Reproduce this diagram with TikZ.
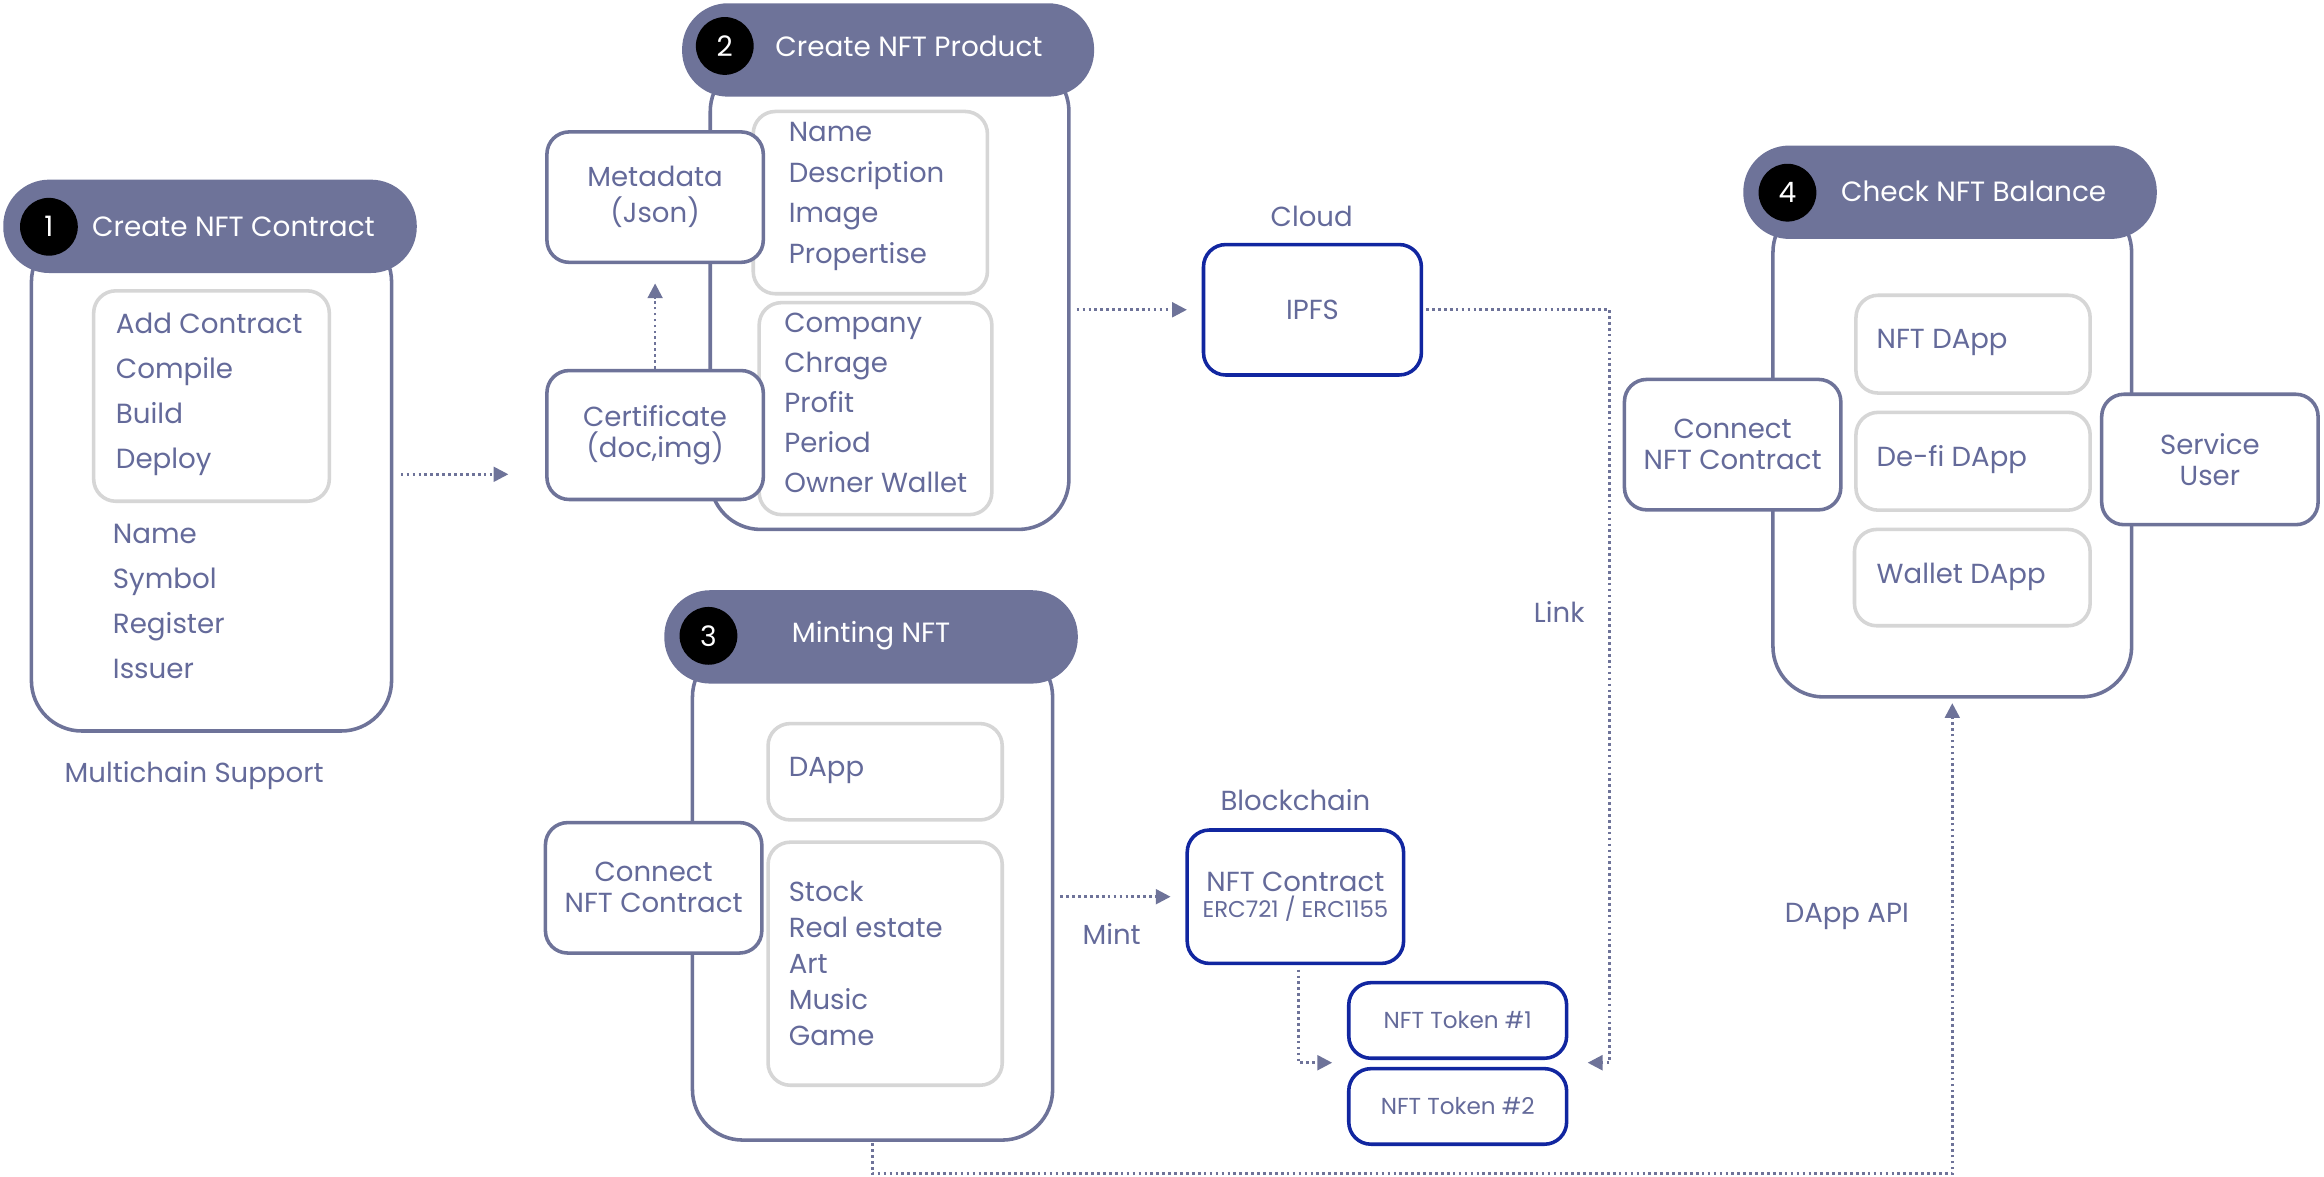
\documentclass[tikz,border=0pt]{standalone}
\usepackage{fontspec}
\setmainfont{Poppins}
\usetikzlibrary{arrows.meta}
\definecolor{hdr}{HTML}{6E7399}
\definecolor{txt}{HTML}{646A9A}
\definecolor{blu}{HTML}{1126A0}
\definecolor{gry}{HTML}{D6D6D6}
\begin{document}
\begin{tikzpicture}[x=1pt,y=-1pt,
 container/.style={draw=hdr,line width=2.4pt,rounded corners=34pt,fill=white,anchor=north west},
 header/.style={fill=hdr,rounded corners=31pt,minimum height=63pt,anchor=north west},
 num/.style={circle,fill=black,text=white,minimum size=39pt,inner sep=0pt,font=\fontsize{19}{20}\selectfont},
 htext/.style={text=white,anchor=west,font=\fontsize{18.8}{20}\selectfont,inner sep=0pt},
 sbox/.style={draw=hdr,line width=2.4pt,rounded corners=15pt,fill=white,align=center,text=txt,font=\fontsize{18.6}{21}\selectfont},
 gbox/.style={draw=gry,line width=2.4pt,rounded corners=15pt,anchor=north west},
 bbox/.style={draw=blu,line width=2.4pt,rounded corners=15pt,fill=white,align=center,text=txt,font=\fontsize{18.6}{20}\selectfont},
 lst/.style={anchor=west,align=left,text=txt,inner sep=0pt},
 lbl/.style={text=txt,font=\fontsize{18.6}{20}\selectfont},
 dotln/.style={draw=hdr,line width=1.8pt,dash pattern=on 1.8pt off 2.2pt},
 arr/.style={dotln,-{Triangle[length=10pt,width=10pt]}},
]
\useasboundingbox (0,0) rectangle (1568,793.45);

% ---------- Box 1
\node[container,minimum width=243,minimum height=337] (c1) at (20,155) {};
\node[header,minimum width=279] (h1) at (2,121) {};
\node[num] (n1) at (33,153) {1};
\node[htext] (t1) at (62,153) {Create NFT Contract};
\node[gbox,minimum width=159,minimum height=142] (g1) at (62,195) {};
\node[lst,font=\fontsize{18.7}{30.3}\selectfont] (l1) at (78,266) {Add Contract\\Compile\\Build\\Deploy};
\node[lst,font=\fontsize{18.7}{30.3}\selectfont] (l2) at (76,406) {Name\\Symbol\\Register\\Issuer};
\node[lbl] (ms) at (131,523) {Multichain Support};

% ---------- Box 2
\node[container,minimum width=242,minimum height=316] (c2) at (478,40) {};
\node[header,minimum width=278] (h2) at (460,2) {};
\node[num] (n2) at (489,31) {2};
\node[htext] (t2) at (523,31) {Create NFT Product};
\node[gbox,minimum width=158,minimum height=123] (g2a) at (507,74) {};
\node[gbox,minimum width=157,minimum height=143] (g2b) at (511,203) {};
\node[lst,font=\fontsize{18.6}{27.3}\selectfont] (l3) at (532,132.5) {Name\\Description\\Image\\Propertise};
\node[lst,font=\fontsize{18.6}{27}\selectfont] (l4) at (529,272) {Company\\Chrage\\Profit\\Period\\Owner Wallet};
\node[sbox,minimum width=146,minimum height=88,font=\fontsize{18.6}{24}\selectfont] (meta) at (442,133) {Metadata\\(Json)};
\node[sbox,minimum width=146,minimum height=87] (cert) at (442,293.5) {Certificate\\(doc,img)};

% ---------- Cloud / IPFS
\node[lbl] (cloud) at (885,146) {Cloud};
\node[bbox,minimum width=147,minimum height=88] (ipfs) at (885.5,209) {IPFS};

% ---------- Box 3
\node[container,minimum width=243,minimum height=333] (c3) at (466,435) {};
\node[header,minimum width=279] (h3) at (448,398) {};
\node[num] (n3) at (478,429) {3};
\node[htext] (t3) at (534,429) {Minting NFT};
\node[gbox,minimum width=158,minimum height=65] (g3a) at (517,487) {};
\node[gbox,minimum width=158,minimum height=164] (g3b) at (517,567) {};
\node[lst,font=\fontsize{18.6}{24}\selectfont] (l5) at (532,520) {DApp};
\node[lst,font=\fontsize{18.6}{24.3}\selectfont] (l6) at (532,650) {Stock\\Real estate\\Art\\Music\\Game};
\node[sbox,minimum width=146,minimum height=88] (con3) at (441,599) {Connect\\NFT Contract};

% ---------- Blockchain
\node[lbl] (bc) at (874,540) {Blockchain};
\node[bbox,minimum width=146,minimum height=90] (nftc) at (874,605) {NFT Contract\\[-3pt]{\fontsize{15.4}{16}\selectfont ERC721 / ERC1155}};
\node[bbox,minimum width=147,minimum height=51,font=\fontsize{15.6}{16}\selectfont] (tok1) at (983.5,688.5) {NFT Token \#1};
\node[bbox,minimum width=147,minimum height=51,font=\fontsize{15.6}{16}\selectfont] (tok2) at (983.5,746.5) {NFT Token \#2};
\node[lbl] (mint) at (750,630) {Mint};

% ---------- Box 4
\node[container,minimum width=242,minimum height=334] (c4) at (1195,135) {};
\node[header,minimum width=279] (h4) at (1176,98) {};
\node[num] (n4) at (1206,130) {4};
\node[htext] (t4) at (1242,129) {Check NFT Balance};
\node[gbox,minimum width=158,minimum height=66] (g4a) at (1251,198) {};
\node[gbox,minimum width=158,minimum height=66] (g4b) at (1251,277) {};
\node[gbox,minimum width=159,minimum height=65] (g4c) at (1250,356) {};
\node[lst,font=\fontsize{18.6}{20}\selectfont] (l7) at (1266,231) {NFT DApp};
\node[lst,font=\fontsize{18.6}{20}\selectfont] (l8) at (1266,310) {De-fi DApp};
\node[lst,font=\fontsize{18.6}{20}\selectfont] (l9) at (1266,389) {Wallet DApp};
\node[sbox,minimum width=146,minimum height=88] (con4) at (1169,300) {Connect\\NFT Contract};
\node[sbox,minimum width=146,minimum height=88] (svc) at (1491,310) {Service\\User};

% ---------- labels
\node[lbl] (link) at (1052,413) {Link};
\node[lbl] (api) at (1246,618) {DApp API};

% ---------- connectors
\coordinate (lk) at (1086,717);
\coordinate (p12) at (343,320);
\draw[arr] ([xshift=5pt]c1.east |- p12) -- (p12);
\draw[arr] (cert.north) -- ([yshift=-13pt]meta.south);
\draw[arr] ([xshift=4pt]c2.east |- ipfs.west) -- ([xshift=-10pt]ipfs.west);
\draw[arr] ([xshift=2pt]ipfs.east) -| (lk) -- ([xshift=13pt]tok1.east |- lk);
\draw[arr] ([xshift=4pt]c3.east |- nftc.west) -- ([xshift=-10pt]nftc.west);
\draw[arr] ([xshift=2pt,yshift=-3pt]nftc.south) |- ([xshift=-10pt]tok1.west |- lk);
\draw[arr] ([yshift=-1pt]c3.south) -- ++(0,20.5) -| ([yshift=-3pt]c4.south);
\end{tikzpicture}
\end{document}
